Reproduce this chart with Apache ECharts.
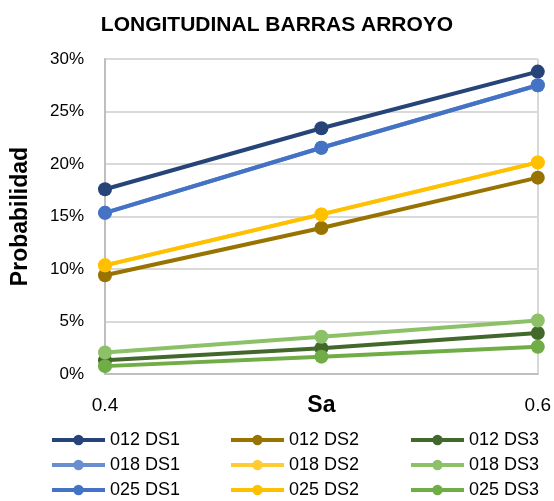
<!DOCTYPE html>
<html>
<head>
<meta charset="utf-8">
<script src="https://cdn.jsdelivr.net/npm/echarts@6/dist/echarts.min.js"></script>
<style>
  html, body { margin: 0; padding: 0; background: #fff; }
  #chart { width: 554px; height: 501px; }
</style>
</head>
<body>
<div id="chart"></div>
<script>
// valores de Sa (eje x)
var sa = [0.4, 0.5, 0.6];

// probabilidades
var s012DS1 = [0.176, 0.234, 0.288];
var s012DS2 = [0.094, 0.139, 0.187];
var s012DS3 = [0.013, 0.0245, 0.039];
var s018DS1 = [0.1535, 0.2155, 0.275];
var s018DS2 = [0.1035, 0.152, 0.2015];
var s018DS3 = [0.0205, 0.0355, 0.051];
var s025DS1 = [0.1535, 0.2155, 0.275];
var s025DS2 = [0.1035, 0.152, 0.2015];
var s025DS3 = [0.0075, 0.0165, 0.026];

var names = ['012 DS1', '012 DS2', '012 DS3', '018 DS1', '018 DS2', '018 DS3', '025 DS1', '025 DS2', '025 DS3'];
var valores = [s012DS1, s012DS2, s012DS3, s018DS1, s018DS2, s018DS3, s025DS1, s025DS2, s025DS3];
var colores = ['#264478', '#997300', '#43682B', '#698ED0', '#FFCD33', '#8CC168', '#4472C4', '#FFC000', '#70AD47'];

var fuente = 'Liberation Sans';

var series = [];
for (var i = 0; i < names.length; i++) {
  var pts = [];
  for (var j = 0; j < sa.length; j++) {
    pts.push([sa[j], valores[i][j]]);
  }
  series.push({
    name: names[i],
    type: 'line',
    data: pts,
    symbol: 'circle',
    symbolSize: 14,
    color: colores[i],
    lineStyle: { width: 4 },
    itemStyle: { color: colores[i] }
  });
}

// una leyenda por columna (DS1, DS2, DS3)
function leyenda(left, datos) {
  return {
    orient: 'vertical',
    left: left,
    top: 431,
    height: 70,
    padding: 0,
    itemWidth: 53,
    itemHeight: 13,
    itemGap: 7,
    lineStyle: { width: 4 },
    data: datos,
    textStyle: { fontFamily: fuente, fontSize: 18, lineHeight: 18, color: '#000' }
  };
}

var option = {
  animation: false,
  title: {
    text: 'LONGITUDINAL BARRAS ARROYO',
    left: 'center',
    top: 10,
    textStyle: { fontFamily: fuente, fontSize: 21, fontWeight: 'bold', color: '#000' }
  },
  legend: [
    leyenda(50, ['012 DS1', '018 DS1', '025 DS1']),
    leyenda(229, ['012 DS2', '018 DS2', '025 DS2']),
    leyenda(409, ['012 DS3', '018 DS3', '025 DS3'])
  ],
  grid: { left: 105, right: 15, top: 59, bottom: 127, containLabel: false },
  xAxis: {
    type: 'value',
    min: 0.4,
    max: 0.6,
    interval: 0.2,
    name: 'Sa',
    nameLocation: 'middle',
    nameGap: 20,
    nameMoveOverlap: false,
    nameTextStyle: { fontFamily: fuente, fontSize: 23, fontWeight: 'bold', color: '#000' },
    axisLine: { show: true, lineStyle: { color: '#bfbfbf', width: 2 } },
    axisTick: { show: false },
    axisLabel: {
      margin: 22,
      fontFamily: fuente, fontSize: 19, color: '#000',
      formatter: function (v) { return v.toFixed(1); }
    },
    splitLine: { show: true, lineStyle: { color: '#d9d9d9', width: 2 } }
  },
  yAxis: {
    type: 'value',
    min: 0,
    max: 0.3,
    interval: 0.05,
    name: 'Probabilidad',
    nameLocation: 'middle',
    nameGap: 73,
    nameMoveOverlap: false,
    nameTextStyle: { fontFamily: fuente, fontSize: 23, fontWeight: 'bold', color: '#000' },
    axisLine: { show: true, lineStyle: { color: '#bfbfbf', width: 2 } },
    axisTick: { show: false },
    axisLabel: {
      margin: 21,
      fontFamily: fuente, fontSize: 17, color: '#000',
      formatter: function (v) { return Math.round(v * 100) + '%'; }
    },
    splitLine: { show: true, lineStyle: { color: '#d9d9d9', width: 2 } }
  },
  series: series
};

var myChart = echarts.init(document.getElementById('chart'));
myChart.setOption(option);
</script>
</body>
</html>
